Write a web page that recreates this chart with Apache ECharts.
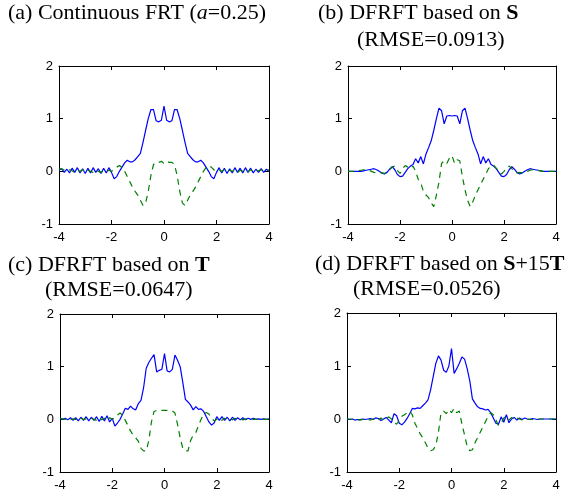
<!DOCTYPE html>
<html>
<head>
<meta charset="utf-8">
<script src="https://cdn.jsdelivr.net/npm/echarts@6/dist/echarts.min.js"></script>
<style>
  html, body { margin: 0; padding: 0; background: #fff; }
  #chart { width: 579px; height: 495px; }
</style>
</head>
<body>
<div id="chart"></div>
<script>
// sample positions (t axis), shared by all four panels
const xs = [-4.0,-3.9,-3.8,-3.7,-3.6,-3.5,-3.4,-3.3,-3.2,-3.1,
  -3.0,-2.9,-2.8,-2.7,-2.6,-2.5,-2.4,-2.3,-2.2,-2.1,
  -2.0,-1.9,-1.8,-1.7,-1.6,-1.5,-1.4,-1.3,-1.2,-1.1,
  -1.0,-0.9,-0.8,-0.7,-0.6,-0.5,-0.4,-0.3,-0.2,-0.1,
  0.0,0.1,0.2,0.3,0.4,0.5,0.6,0.7,0.8,0.9,
  1.0,1.1,1.2,1.3,1.4,1.5,1.6,1.7,1.8,1.9,
  2.0,2.1,2.2,2.3,2.4,2.5,2.6,2.7,2.8,2.9,
  3.0,3.1,3.2,3.3,3.4,3.5,3.6,3.7,3.8,3.9,4.0]

const xTicks = [-4, -2, 0, 2, 4]
const yTicks = [-1, 0, 1, 2]

// (a) continuous FRT
const aReal = [0.02,0.05,-0.02,0.04,-0.03,0.06,-0.02,0.07,-0.03,0.05,
  -0.04,0.06,-0.03,0.07,-0.02,0.05,-0.04,0.06,-0.03,0.07,
  -0.02,-0.14,-0.1,0.0,0.08,0.16,0.21,0.18,0.18,0.22,
  0.28,0.34,0.55,0.78,1.0,1.17,1.17,0.96,0.94,0.97,
  1.24,0.97,0.94,0.96,1.17,1.17,1.0,0.78,0.55,0.34,
  0.28,0.22,0.18,0.18,0.21,0.16,0.08,0.0,-0.1,-0.14,
  -0.02,0.07,-0.03,0.06,-0.04,0.05,-0.03,0.07,-0.02,0.06,
  -0.03,0.07,-0.02,0.06,-0.03,0.04,-0.02,0.05,-0.02,0.04,0.0]
const aImag = [0.04,0.05,0.02,0.0,0.03,0.01,-0.02,0.02,0.0,0.03,
  -0.01,0.02,0.0,-0.02,0.02,0.0,-0.02,0.01,0.0,0.02,
  0.0,0.03,0.08,0.11,0.07,0.0,-0.1,-0.2,-0.3,-0.38,
  -0.45,-0.55,-0.65,-0.6,-0.38,-0.08,0.13,0.17,0.17,0.19,
  0.15,0.19,0.17,0.17,0.13,-0.08,-0.38,-0.6,-0.65,-0.55,
  -0.45,-0.38,-0.3,-0.2,-0.1,0.0,0.07,0.11,0.08,0.03,
  0.0,0.02,0.0,0.03,-0.01,0.02,0.0,0.03,-0.02,0.02,
  0.0,0.02,-0.01,0.03,0.0,0.02,0.01,0.03,0.02,0.04,0.02]

// (b) DFRFT based on S
const bReal = [0,0,0,0,0,0,0.01,0.02,0.03,0.04,
  0.05,0.03,0.0,-0.03,-0.05,-0.02,0.04,0.09,0.03,-0.06,
  -0.1,-0.09,-0.02,0.05,0.1,0.13,0.24,0.16,0.28,0.14,
  0.33,0.45,0.58,0.78,1.0,1.2,1.15,0.9,1.05,1.06,
  1.05,1.06,1.05,0.9,1.15,1.2,1.0,0.78,0.58,0.45,
  0.33,0.14,0.28,0.16,0.24,0.13,0.1,0.05,-0.02,-0.09,
  -0.1,-0.06,0.03,0.09,0.04,-0.02,-0.05,-0.03,0.0,0.03,
  0.05,0.04,0.03,0.02,0.01,0,0,0,0,0,0]
const bImag = [0,0,0,0,0.01,0.02,0.03,0.03,0.02,0.0,
  -0.02,-0.03,-0.02,-0.03,-0.04,-0.02,0.03,0.08,0.1,0.02,
  -0.04,0.05,0.11,0.08,0.05,0.1,0.0,-0.15,-0.22,-0.38,
  -0.45,-0.5,-0.6,-0.67,-0.45,-0.2,0.15,0.2,0.15,0.25,
  0.3,0.15,0.22,0.2,-0.1,-0.35,-0.55,-0.67,-0.58,-0.45,
  -0.35,-0.25,-0.15,-0.05,0.05,0.1,0.12,0.06,0.0,-0.05,
  0.0,0.06,0.1,0.05,0.0,-0.03,-0.02,-0.03,-0.02,0.0,
  0.02,0.03,0.02,0.02,0.01,0,0,0,0,0,0]

// (c) DFRFT based on T
const cReal = [0.01,0.0,0.02,-0.01,0.03,-0.02,0.03,-0.03,0.04,-0.02,
  0.05,-0.03,0.04,-0.02,0.05,-0.04,0.06,-0.03,0.07,-0.05,
  0.02,-0.13,-0.07,0.0,0.1,0.21,0.19,0.25,0.2,0.18,
  0.3,0.36,0.6,0.97,1.08,1.16,1.23,0.9,0.93,0.95,
  1.25,0.92,0.9,0.95,1.22,1.12,1.0,0.7,0.38,0.33,
  0.27,0.18,0.24,0.19,0.2,0.15,0.05,-0.05,-0.11,-0.07,
  0.05,-0.02,0.05,-0.02,0.04,-0.03,0.04,-0.02,0.03,-0.01,
  0.03,-0.01,0.02,0.0,0.02,0.0,0.01,0.0,0.01,0.0,0.01]
const cImag = [0.02,0.01,0.0,0.01,-0.01,0.01,0.0,-0.01,0.02,0.0,
  0.01,-0.01,0.02,0.0,-0.02,0.03,-0.01,0.02,-0.02,0.03,
  0.0,0.04,0.08,0.12,0.08,-0.02,-0.12,-0.22,-0.3,-0.35,
  -0.42,-0.55,-0.6,-0.6,-0.4,-0.05,0.15,0.17,0.17,0.17,
  0.17,0.17,0.17,0.16,0.12,-0.1,-0.35,-0.55,-0.6,-0.6,
  -0.4,-0.3,-0.25,-0.12,0.0,0.1,0.13,0.1,0.03,-0.03,
  0.0,0.03,-0.02,0.02,0.0,0.01,-0.01,0.02,0.0,0.01,
  -0.01,0.01,0.0,0.01,0.0,0.0,0.01,0.0,0.0,0.0,0.0]

// (d) DFRFT based on S+15T
const dReal = [0.0,-0.01,0.0,-0.02,-0.01,-0.01,0.0,-0.01,0.0,0.01,
  -0.01,0.02,0.01,-0.03,0.0,0.03,-0.02,-0.07,0.1,0.06,
  -0.08,-0.11,-0.06,0.01,0.1,0.2,0.19,0.21,0.2,0.25,
  0.3,0.36,0.55,0.8,1.05,1.19,1.11,0.92,0.88,1.0,
  1.33,0.86,0.95,1.05,1.17,1.13,0.95,0.72,0.38,0.3,
  0.23,0.2,0.19,0.17,0.18,0.12,0.02,-0.08,-0.1,0.04,
  -0.06,0.08,-0.07,0.0,0.03,-0.02,0.02,-0.01,0.02,0.0,
  -0.01,0.01,0.0,-0.01,0.0,0,0,0,0,0,0]
const dImag = [0.0,0.0,-0.01,0.0,-0.01,-0.02,-0.01,0.0,-0.01,-0.02,
  0.0,0.01,-0.02,0.02,-0.03,0.01,0.04,0.0,-0.05,-0.1,
  -0.02,0.05,0.08,0.12,0.15,0.08,-0.08,-0.18,-0.28,-0.35,
  -0.45,-0.55,-0.6,-0.58,-0.5,-0.25,0.12,0.15,0.1,0.18,
  0.12,0.2,0.12,0.15,-0.1,-0.3,-0.52,-0.6,-0.58,-0.45,
  -0.35,-0.25,-0.15,-0.05,0.05,0.12,0.08,-0.02,-0.12,-0.08,
  0.02,0.05,-0.02,0.03,-0.01,0.02,0.0,-0.02,0.0,-0.01,
  0.0,-0.01,0,0,0,0,0,0,0,0,0]

const panels = [
  { real: aReal, imag: aImag, grid: { left: 59, top: 66, width: 210, height: 158 } },
  { real: bReal, imag: bImag, grid: { left: 348, top: 66, width: 208, height: 158 } },
  { real: cReal, imag: cImag, grid: { left: 60, top: 314, width: 209, height: 158 } },
  { real: dReal, imag: dImag, grid: { left: 347, top: 313, width: 209, height: 159 } }
]

const pairs = (ys) => xs.map((x, i) => [x, ys[i]])

const chart = echarts.init(document.getElementById('chart'))

const grid = [], xAxis = [], yAxis = [], series = []
const tick = { show: true, inside: true, length: 4, lineStyle: { color: '#000' } }
const line = { show: true, onZero: false, lineStyle: { color: '#000', width: 1 } }
const lab = { color: '#000', fontFamily: 'Liberation Sans', fontSize: 13 }

panels.forEach((p, i) => {
  grid.push(p.grid)
  // bottom and top x axes (top one only for the box and ticks)
  xAxis.push({ type: 'value', gridIndex: i, min: xTicks[0], max: xTicks[xTicks.length - 1], interval: 2,
    axisLine: line, axisTick: tick, splitLine: { show: false }, axisLabel: Object.assign({ margin: 7 }, lab) })
  xAxis.push({ type: 'value', gridIndex: i, position: 'top', min: -4, max: 4, interval: 2,
    axisLine: line, axisTick: tick, splitLine: { show: false }, axisLabel: { show: false } })
  yAxis.push({ type: 'value', gridIndex: i, min: yTicks[0], max: yTicks[yTicks.length - 1], interval: 1,
    axisLine: line, axisTick: tick, splitLine: { show: false }, axisLabel: Object.assign({ margin: 6 }, lab) })
  yAxis.push({ type: 'value', gridIndex: i, position: 'right', min: -1, max: 2, interval: 1,
    axisLine: line, axisTick: tick, splitLine: { show: false }, axisLabel: { show: false } })

  series.push({ type: 'line', xAxisIndex: i * 2, yAxisIndex: i * 2, data: pairs(p.real),
    showSymbol: false, lineStyle: { color: '#0000ff', width: 1.2 }, silent: true })
  series.push({ type: 'line', xAxisIndex: i * 2, yAxisIndex: i * 2, data: pairs(p.imag),
    showSymbol: false, lineStyle: { color: '#008000', width: 1.2, type: [6, 5] }, silent: true })
})

const serif = { fontFamily: 'Liberation Serif', fontSize: 22, fontWeight: 'normal', color: '#000' }
const rich = {
  n: serif,
  i: Object.assign({}, serif, { fontStyle: 'italic' }),
  b: Object.assign({}, serif, { fontWeight: 'bold' })
}
const title = [
  { text: '{n|(a) Continuous FRT (}{i|a}{n|=0.25)}', left: 8, top: 2 },
  { text: '{n|(b) DFRFT based on }{b|S}', left: 318, top: 2 },
  { text: '{n|(RMSE=0.0913)}', left: 357, top: 29 },
  { text: '{n|(c) DFRFT based on }{b|T}', left: 8, top: 254 },
  { text: '{n|(RMSE=0.0647)}', left: 45, top: 279 },
  { text: '{n|(d) DFRFT based on }{b|S}{n|+15}{b|T}', left: 315, top: 253 },
  { text: '{n|(RMSE=0.0526)}', left: 353, top: 278 }
].map(t => Object.assign(t, { padding: 0, textStyle: { fontWeight: 'normal', fontFamily: 'Liberation Serif', fontSize: 22, rich: rich } }))

chart.setOption({
  animation: false,
  backgroundColor: '#fff',
  title: title,
  grid: grid,
  xAxis: xAxis,
  yAxis: yAxis,
  series: series
})
</script>
</body>
</html>
